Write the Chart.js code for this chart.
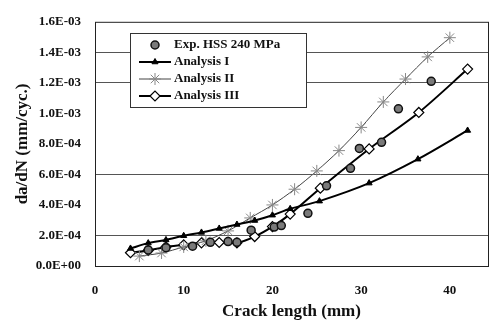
<!DOCTYPE html>
<html>
<head>
<meta charset="utf-8">
<script src="https://cdn.jsdelivr.net/npm/chart.js@4.4.1/dist/chart.umd.min.js"></script>
<style>
  html, body { margin: 0; padding: 0; background: #fff; }
  #wrap { width: 497px; height: 324px; }
</style>
</head>
<body>
<div id="wrap"><canvas id="chart" width="497" height="324"></canvas></div>
<script>
// Crack growth rate data (crack length in mm, da/dN in mm/cycle)
const expX = [6, 8, 11, 13, 15, 16, 17.6, 20.2, 21, 24, 26.1, 28.8, 29.8, 32.3, 34.2, 37.9];
const expY = [1.05e-4, 1.2e-4, 1.3e-4, 1.55e-4, 1.6e-4, 1.55e-4, 2.35e-4, 2.55e-4, 2.65e-4, 3.45e-4, 5.25e-4, 6.4e-4, 7.7e-4, 8.1e-4, 1.03e-3, 1.21e-3];

const anaIX = [4, 6, 8, 10, 12, 14, 16, 18, 20, 22, 25.3, 30.9, 36.4, 42];
const anaIY = [1.15e-4, 1.5e-4, 1.71e-4, 1.98e-4, 2.2e-4, 2.46e-4, 2.72e-4, 2.98e-4, 3.33e-4, 3.75e-4, 4.25e-4, 5.43e-4, 7.0e-4, 8.88e-4];

const anaIIX = [5, 7.5, 10, 12.5, 15, 17.5, 20, 22.5, 25, 27.5, 30, 32.5, 35, 37.5, 40];
const anaIIY = [6.5e-5, 8.5e-5, 1.25e-4, 1.65e-4, 2.3e-4, 3.15e-4, 4.0e-4, 5.03e-4, 6.23e-4, 7.56e-4, 9.08e-4, 1.075e-3, 1.225e-3, 1.37e-3, 1.496e-3];

const anaIIIX = [4, 6, 8, 10, 12, 14, 16, 18, 20, 22, 25.4, 30.9, 36.5, 42];
const anaIIIY = [8.7e-5, 1.02e-4, 1.25e-4, 1.38e-4, 1.52e-4, 1.54e-4, 1.52e-4, 1.93e-4, 2.58e-4, 3.4e-4, 5.1e-4, 7.67e-4, 1.006e-3, 1.29e-3];

const seriesNames = ['Exp. HSS 240 MPa', 'Analysis I', 'Analysis II', 'Analysis III'];
const xTicks = [0, 10, 20, 30, 40];
const gridAt = [2, 6, 12, 14]; // in units of 1e-4

function toPoints(xs, ys) {
    return xs.map((x, i) => ({ x: x, y: ys[i] }));
}

function fmtExp(v) {
    const parts = v.toExponential(1).split('e');
    const e = parseInt(parts[1], 10);
    const sign = e < 0 ? '-' : '+';
    return parts[0] + 'E' + sign + String(Math.abs(e)).padStart(2, '0');
}

const serif = '"Liberation Serif", "Times New Roman", serif';

// frame around the plot area + legend box inside it
const framePlugin = {
    id: 'frame',
    afterDraw(chart) {
        const ctx = chart.ctx;
        const a = chart.chartArea;
        ctx.save();
        ctx.strokeStyle = '#222';
        ctx.lineWidth = 1;
        ctx.strokeRect(a.left + 0.5, a.top + 0.5, a.right - a.left, a.bottom - a.top);

        // legend
        const bx = 130, by = 33, bw = 176, bh = 74;
        ctx.fillStyle = '#fff';
        ctx.fillRect(bx, by, bw, bh);
        ctx.strokeStyle = '#333';
        ctx.strokeRect(bx + 0.5, by + 0.5, bw, bh);
        ctx.font = 'bold 13px ' + serif;
        ctx.textBaseline = 'middle';
        const rows = [45, 62, 79, 96];
        chart.data.datasets.forEach((ds, i) => {
            const y = rows[i];
            if (ds.showLine) {
                ctx.strokeStyle = ds.borderColor;
                ctx.lineWidth = ds.borderWidth;
                ctx.beginPath();
                ctx.moveTo(139, y);
                ctx.lineTo(171, y);
                ctx.stroke();
            }
            ctx.fillStyle = ds.pointBackgroundColor;
            ctx.strokeStyle = ds.pointBorderColor;
            ctx.lineWidth = ds.pointBorderWidth;
            Chart.helpers.drawPoint(ctx, {
                pointStyle: ds.pointStyle,
                radius: ds.pointRadius,
                borderWidth: ds.pointBorderWidth
            }, 155, y);
            ctx.fillStyle = '#111';
            ctx.fillText(seriesNames[i], 174, y);
        });
        ctx.restore();
    }
};

new Chart(document.getElementById('chart'), {
    type: 'scatter',
    data: {
        datasets: [
            {
                label: seriesNames[0],
                data: toPoints(expX, expY),
                showLine: false,
                pointStyle: 'circle',
                pointRadius: 4,
                pointBorderWidth: 1.5,
                pointBackgroundColor: '#7a7a7a',
                pointBorderColor: '#111',
                borderColor: '#111',
                borderWidth: 0
            },
            {
                label: seriesNames[1],
                data: toPoints(anaIX, anaIY),
                showLine: true,
                tension: 0.3,
                borderColor: '#000',
                borderWidth: 2,
                pointStyle: 'triangle',
                pointRadius: 3.5,
                pointBorderWidth: 1,
                pointBackgroundColor: '#000',
                pointBorderColor: '#000'
            },
            {
                label: seriesNames[2],
                data: toPoints(anaIIX, anaIIY),
                showLine: true,
                tension: 0.3,
                borderColor: '#444',
                borderWidth: 1,
                pointStyle: 'star',
                pointRadius: 6,
                pointBorderWidth: 1,
                pointBackgroundColor: '#888',
                pointBorderColor: '#888'
            },
            {
                label: seriesNames[3],
                data: toPoints(anaIIIX, anaIIIY),
                showLine: true,
                tension: 0.3,
                borderColor: '#000',
                borderWidth: 2,
                pointStyle: 'rectRot',
                pointRadius: 5,
                pointBorderWidth: 1.2,
                pointBackgroundColor: '#fff',
                pointBorderColor: '#000'
            }
        ]
    },
    options: {
        responsive: false,
        animation: false,
        layout: { padding: { top: 10, right: 9, left: 0, bottom: 0 } },
        plugins: {
            legend: { display: false },
            tooltip: { enabled: false }
        },
        scales: {
            x: {
                type: 'linear',
                min: 0,
                max: 44.3,
                afterFit(scale) { scale.height = 58; },
                afterBuildTicks(scale) { scale.ticks = xTicks.map(v => ({ value: v })); },
                grid: { display: true, drawOnChartArea: false, drawTicks: false },
                border: { display: false },
                ticks: {
                    padding: 17,
                    color: '#111',
                    font: { family: serif, size: 13, weight: 'bold' }
                },
                title: {
                    display: true,
                    text: 'Crack length (mm)',
                    color: '#111',
                    padding: { top: 0, bottom: 2 },
                    font: { family: serif, size: 17, weight: 'bold' }
                }
            },
            y: {
                type: 'linear',
                min: 0,
                max: 1.6e-3,
                afterFit(scale) { scale.width = 95; },
                grid: {
                    drawTicks: false,
                    color(ctx) {
                        const k = Math.round(ctx.tick.value * 1e4);
                        return gridAt.includes(k) ? '#555' : 'rgba(0,0,0,0)';
                    },
                    lineWidth: 1
                },
                border: { display: false },
                ticks: {
                    stepSize: 2e-4,
                    padding: 14,
                    color: '#111',
                    font: { family: serif, size: 13, weight: 'bold' },
                    callback: v => fmtExp(v)
                },
                title: {
                    display: true,
                    text: 'da/dN (mm/cyc.)',
                    color: '#111',
                    padding: { top: 12, bottom: 0 },
                    font: { family: serif, size: 17, weight: 'bold' }
                }
            }
        }
    },
    plugins: [framePlugin]
});
</script>
</body>
</html>
